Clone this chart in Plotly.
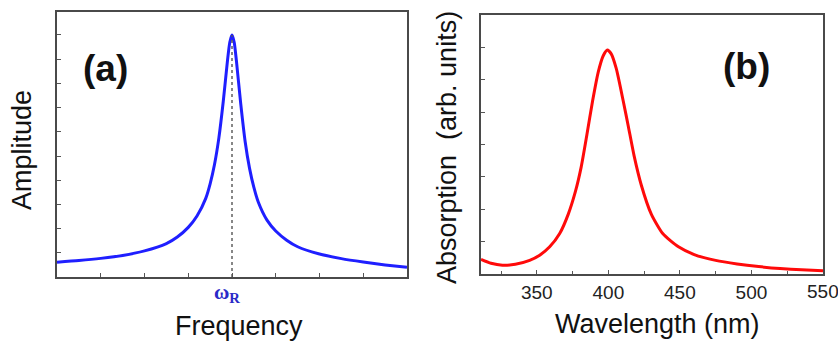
import plotly.graph_objects as go

W, H = 838, 347

# Panel (a): resonance amplitude vs. frequency (arbitrary units, resonance at 4)
freq = [0.0, 0.5, 1.0, 1.5, 2.0, 2.5, 2.75, 3.0, 3.2, 3.4, 3.5, 3.6, 3.7, 3.8,
        3.9, 3.95, 4.0, 4.05, 4.1, 4.2, 4.3, 4.4, 4.5, 4.6, 4.8, 5.0, 5.25,
        5.5, 6.0, 6.5, 7.0, 7.5, 8.0]
amplitude = [0.61, 0.68, 0.77, 0.89, 1.08, 1.38, 1.65, 2.05, 2.52, 3.25, 3.85,
             4.65, 5.75, 7.25, 9.0, 9.7, 10.0, 9.7, 8.95, 7.15, 5.6, 4.5, 3.7,
             3.1, 2.35, 1.9, 1.52, 1.25, 0.95, 0.76, 0.62, 0.50, 0.40]
omega_r = 4.0
peak_amp = 10.0

# Panel (b): absorption spectrum
wavelength = [311, 318, 326, 335, 345, 352, 359, 366, 372, 377, 381, 385, 389,
              393, 396.5, 399.3, 402, 405.5, 410.5, 414, 418, 423, 430,
              438, 449, 460, 475, 490, 505, 520, 535, 550]
absorption = [0.45, 0.33, 0.27, 0.30, 0.42, 0.58, 0.84, 1.25, 1.85, 2.55, 3.3,
              4.3, 5.35, 6.25, 6.75, 6.92, 6.8, 6.35, 5.32, 4.55, 3.65, 2.75,
              1.85, 1.25, 0.84, 0.6, 0.42, 0.31, 0.23, 0.17, 0.13, 0.10]
wl_ticks = [350, 400, 450, 500, 550]


def px(x):
    return x / W


def py(y):
    return 1 - y / H


fig = go.Figure()
fig.add_trace(go.Scatter(x=freq, y=amplitude, mode="lines",
                         line=dict(color="#1f1fff", width=3, shape="spline",
                                   smoothing=0.6),
                         xaxis="x", yaxis="y", showlegend=False))
fig.add_trace(go.Scatter(x=[omega_r, omega_r], y=[0, peak_amp], mode="lines",
                         line=dict(color="#555555", width=1.4, dash="dot"),
                         xaxis="x", yaxis="y", showlegend=False))
fig.add_trace(go.Scatter(x=wavelength, y=absorption, mode="lines",
                         line=dict(color="#ff0a0a", width=3, shape="spline",
                                   smoothing=0.6),
                         xaxis="x2", yaxis="y2", showlegend=False))

axis_common = dict(showline=True, linecolor="#4a4a4a", linewidth=1.6,
                   mirror=True, showgrid=False, zeroline=False, automargin=False,
                   ticks="inside", tickcolor="#555555", ticklen=4, tickwidth=1.2)

tick_font = dict(family="Liberation Sans, Arial, sans-serif", size=19,
                 color="#222222")

fig.update_layout(
    width=W, height=H,
    margin=dict(l=0, r=0, t=0, b=0),
    paper_bgcolor="white", plot_bgcolor="white",
    xaxis=dict(domain=[px(57), px(407)], range=[0, 8], anchor="y",
               tickvals=[1, 2, 3, 4, 5, 6, 7], showticklabels=False,
               **axis_common),
    yaxis=dict(domain=[py(277), py(12)], range=[0, 10.95], anchor="x",
               tickvals=list(range(1, 11)), showticklabels=False,
               **axis_common),
    xaxis2=dict(domain=[px(481), px(823)], range=[311, 550], anchor="y2",
                tickvals=wl_ticks, ticktext=[str(t) for t in wl_ticks],
                showticklabels=True, tickfont=tick_font,
                minor=dict(dtick=25, tick0=325, ticks="inside", ticklen=3,
                           tickcolor="#555555"),
                **axis_common),
    yaxis2=dict(domain=[py(274), py(15)], range=[0, 8], anchor="x2",
                tickvals=list(range(1, 8)), showticklabels=False,
                **axis_common),
)

# the last wavelength label runs past the page edge, so it is placed as an
# annotation on the x2 axis instead of relying on the tick label
fig.add_annotation(text=str(wl_ticks[-1]), x=wl_ticks[-1], xref="x2",
                   y=py(291), yref="paper", xanchor="center", yanchor="middle",
                   showarrow=False, font=tick_font)

font_main = "Liberation Sans, Arial, sans-serif"
annotations = [
    dict(text="<b>(a)</b>", x=px(105), y=py(68), size=37, color="#111111",
         angle=0, family=font_main),
    dict(text="<b>(b)</b>", x=px(746), y=py(66), size=37, color="#111111",
         angle=0, family=font_main),
    dict(text="Amplitude", x=px(22), y=py(150), size=27, color="#111111",
         angle=-90, family=font_main),
    dict(text="Frequency", x=px(239), y=py(326), size=27, color="#111111",
         angle=0, family=font_main),
    dict(text="<b>ω<sub>R</sub></b>", x=px(227), y=py(293), size=21,
         color="#2a2ac8", angle=0, family="Liberation Serif, Times New Roman, serif"),
    dict(text="Absorption  (arb. units)", x=px(447), y=py(148), size=27,
         color="#111111", angle=-90, family=font_main),
    dict(text="Wavelength (nm)", x=px(657), y=py(324), size=27, color="#111111",
         angle=0, family=font_main),
]
for a in annotations:
    fig.add_annotation(text=a["text"], x=a["x"], y=a["y"], xref="paper", yref="paper",
                       xanchor="center", yanchor="middle", showarrow=False,
                       textangle=a["angle"],
                       font=dict(family=a["family"], size=a["size"], color=a["color"]))

fig.write_html("out.html")
